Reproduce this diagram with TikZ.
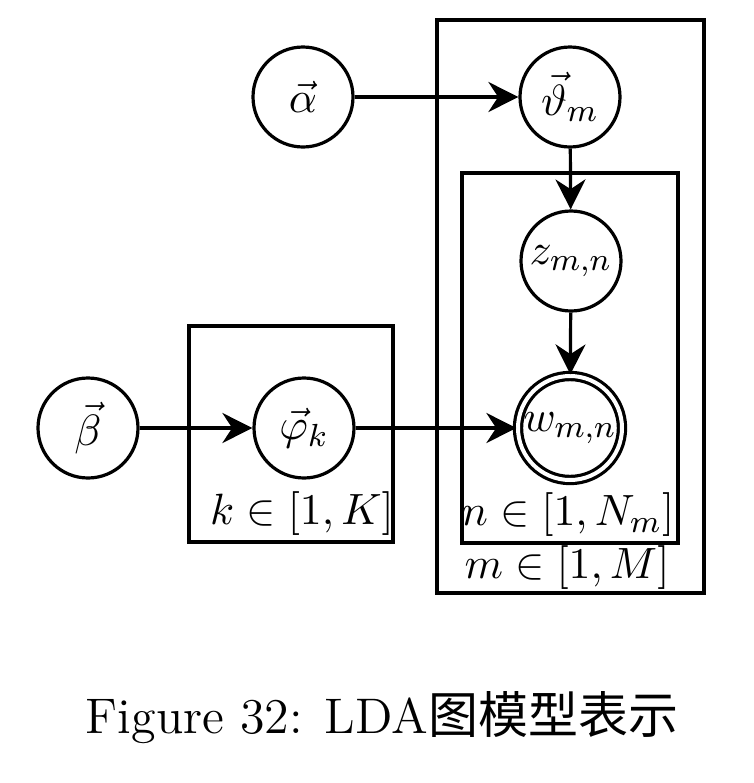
\documentclass[tikz,border=0pt]{standalone}
\usepackage{fontspec}
\newfontfamily\cjk{Noto Sans CJK SC}
\usetikzlibrary{arrows.meta}
\begin{document}
\begin{tikzpicture}[x=0.25pt,y=-0.25pt,
  var/.style={circle, draw, line width=0.8pt, minimum size=25pt, inner sep=0pt, font=\fontsize{11}{13}\selectfont},
  obs/.style={var, minimum size=26pt, double, double distance=1pt},
  plate/.style={draw, line width=0.8pt},
  edge/.style={-{Stealth[length=7.5pt,width=7.5pt]}, line width=0.8pt},
  lbl/.style={font=\fontsize{11}{13}\selectfont, inner sep=0pt}]
\useasboundingbox (0,0) rectangle (753,783);
% plates
\draw[plate] (437,20) rectangle (704,593);
\draw[plate] (462,173) rectangle (678,543);
\draw[plate] (189,326) rectangle (393,542);
% nodes
\node[var] (alpha) at (303,97) {$\vec{\alpha}$};
\node[var] (theta) at (570,97) {$\vec{\vartheta}_m$};
\node[var] (z) at (571,261) {$z_{m,n}$};
\node[obs] (w) at (570,428) {$w_{m,n}$};
\node[var] (beta) at (88,428) {$\vec{\beta}$};
\node[var] (phi) at (304,428) {$\vec{\varphi}_k$};
% edges
\draw[edge] (alpha) -- (theta);
\draw[edge] (theta) -- (z);
\draw[edge] (z) -- (w);
\draw[edge] (beta) -- (phi);
\draw[edge] (phi) -- (w);
% plate labels
\node[lbl] (lk) at (302,514) {$k\in[1,K]$};
\node[lbl] (ln) at (568,515) {$n\in[1,N_m]$};
\node[lbl] (lm) at (567,568) {$m\in[1,M]$};
% caption
\node[inner sep=0pt, font=\fontsize{12.5}{15}\selectfont] (cap) at (382,718) {Figure 32: LDA{\cjk 图模型表示}};
\end{tikzpicture}
\end{document}
